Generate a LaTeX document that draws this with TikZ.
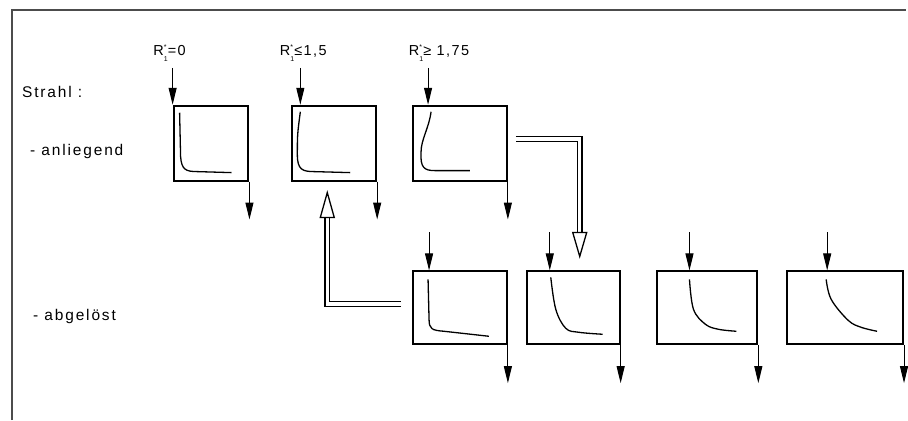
\documentclass[tikz,border=0pt]{standalone}
\usepackage{fontspec}
\setmainfont{Liberation Sans}
\newfontfamily\lblfont{Liberation Sans}[LetterSpace=12]
\newfontfamily\rfont{Liberation Sans}[LetterSpace=10]
\usetikzlibrary{arrows.meta,positioning}
\newcommand\Rone{R\rlap{\raisebox{0.85ex}{\scriptsize *}}\raisebox{-0.75ex}{\scriptsize 1}}

\begin{document}
\begin{tikzpicture}[x=1pt,y=-1pt,
  box/.style={draw,line width=2pt,anchor=north west,inner sep=0pt,minimum height=75pt},
  lbl/.style={anchor=west,inner sep=0pt,font=\lblfont\fontsize{15.5}{17}\selectfont},
  rlbl/.style={inner sep=0pt,font=\rfont\fontsize{14.5}{16}\selectfont},
  arr/.style={line width=1pt,-{Triangle[length=17pt,width=8pt]}},
  curve/.style={line width=1.3pt},
  hollow/.style={double,line width=1.3pt,double distance=3.5pt},
  hohead/.style={draw,line width=1.3pt,fill=white}]
\fill[white] (0,0) rectangle (908,421);
\draw[line width=1.5pt,black!70] (12,421) -- (12,10) -- (908,10);
% texts
\node[lbl] (strahl) at (22,92) {Strahl :};
\node[lbl] (anl) at (30,152) {- anliegend};
\node[lbl] (abg) at (33,317) {- abgelöst};
\node[rlbl] (r1) at (170,53) {\Rone=0};
\node[rlbl] (r2) at (304,53) {\Rone≤1,5};
\node[rlbl] (r3) at (440,53) {\Rone≥ 1,75};
% upper row
\node[box,minimum width=75pt] (b1) at (173,105) {};
\node[box,minimum width=84pt] (b2) at (292,105) {};
\node[box,minimum width=94pt] (b3) at (413,105) {};
% lower row
\node[box,minimum width=94pt,minimum height=73pt] (b4) at (413,271) {};
\node[box,minimum width=93pt,minimum height=73pt] (b5) at (527,271) {};
\node[box,minimum width=101pt,minimum height=73pt] (b6) at (657,271) {};
\node[box,minimum width=116pt,minimum height=73pt] (b7) at (788,271) {};
% inflow
\coordinate (i1) at (173,68);
\coordinate (i2) at (301,68);
\coordinate (i3) at (429,68);
\coordinate (i4) at (430,233);
\coordinate (i5) at (551,233);
\coordinate (i6) at (691,233);
\coordinate (i7) at (829,233);
\draw[arr] (i1) -- (b1.north west);
\draw[arr] (i2) -- (i2 |- b2.north);
\draw[arr] (i3) -- (i3 |- b3.north);
\draw[arr] (i4) -- (i4 |- b4.north);
\draw[arr] (i5) -- (i5 |- b5.north);
\draw[arr] (i6) -- (i6 |- b6.north);
\draw[arr] (i7) -- (i7 |- b7.north);
% outflow
\coordinate[below=38pt of b1.south east] (o1);
\coordinate[below=38pt of b2.south east] (o2);
\coordinate[below=38pt of b3.south east] (o3);
\coordinate[below=38pt of b4.south east] (o4);
\coordinate[below=38pt of b5.south east] (o5);
\coordinate[below=38pt of b6.south east] (o6);
\coordinate[below=38pt of b7.south east] (o7);
\draw[arr] (b1.south east) -- (o1);
\draw[arr] (b2.south east) -- (o2);
\draw[arr] (b3.south east) -- (o3);
\draw[arr] (b4.south east) -- (o4);
\draw[arr] (b5.south east) -- (o5);
\draw[arr] (b6.south east) -- (o6);
\draw[arr] (b7.south east) -- (o7);
% profiles
\draw[curve] (180,113) -- (181,157) .. controls (182,170) and (186,172) .. (198,172) -- (232,173);
\draw[curve] (301,112) .. controls (298,135) .. (298,155) .. controls (298,170) and (303,172) .. (315,172) -- (351,173);
\draw[curve] (432,112) .. controls (430,128) and (422,140) .. (422,152) .. controls (421,168) and (425,171) .. (436,171) -- (471,171);
\draw[curve] (429,280) -- (430,320) .. controls (430,330) and (433,331) .. (445,332) -- (490,337);
\draw[curve] plot[smooth,tension=0.6] coordinates {(552,278) (557,310) (567,329) (580,333) (604,335)};
\draw[curve] plot[smooth,tension=0.6] coordinates {(691,280) (695,310) (707,325) (720,330) (738,332)};
\draw[curve] plot[smooth,tension=0.6] coordinates {(828,280) (833,300) (850,321) (863,328) (879,332)};
% transitions
\coordinate (h1a) at (517,139.5);
\coordinate (h1b) at (581,139.5);
\coordinate (h1c) at (581,233);
\draw[hollow] (h1a) -- (h1b) -- (h1c);
\draw[hohead] (574,233) -- (588,233) -- (581,257) -- cycle;
\coordinate (h2a) at (402,304.5);
\coordinate (h2b) at (328,304.5);
\coordinate (h2c) at (328,218);
\draw[hollow] (h2a) -- (h2b) -- (h2c);
\draw[hohead] (321,218) -- (335,218) -- (328,193) -- cycle;
\end{tikzpicture}
\end{document}
